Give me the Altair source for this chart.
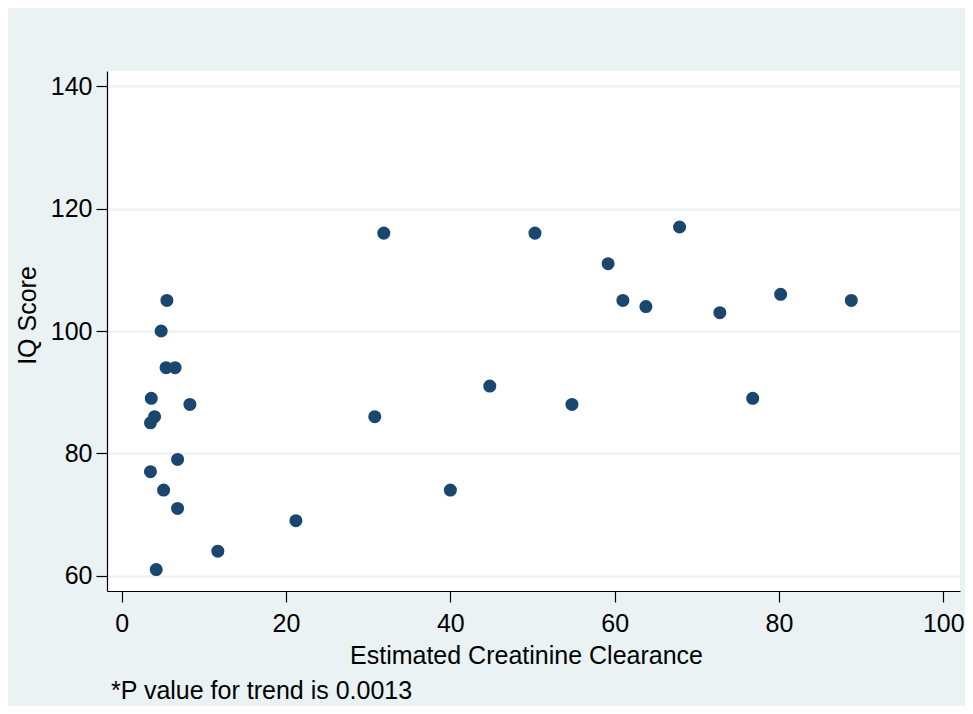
import altair as alt
import pandas as pd

# Estimated creatinine clearance (x) and IQ score (y)
clearance = [5.5, 4.8, 5.4, 6.5, 3.6, 8.3, 4.0, 3.5, 6.8, 3.5, 5.1, 6.8, 11.7, 4.2,
             21.2, 30.8, 31.9, 40.0, 44.8, 50.3, 54.8, 59.2, 61.0, 63.8, 67.9,
             72.8, 76.8, 80.2, 88.8]
iq = [105, 100, 94, 94, 89, 88, 86, 85, 79, 77, 74, 71, 64, 61,
      69, 86, 116, 74, 91, 116, 88, 111, 105, 104, 117,
      103, 89, 106, 105]

x_ticks = [0, 20, 40, 60, 80, 100]
y_ticks = [60, 80, 100, 120, 140]
note = "*P value for trend is 0.0013"

df = pd.DataFrame({"clearance": clearance, "iq": iq})
FONT = "Liberation Sans"
NAVY = "#1A476F"
BG = "#EAF2F3"

points = alt.Chart(df).mark_circle(size=170, color=NAVY, opacity=1).encode(
    x=alt.X(
        "clearance:Q",
        scale=alt.Scale(domain=[-1.79, 102.03], nice=False, zero=False),
        axis=alt.Axis(
            values=x_ticks, grid=False, tickSize=11, tickWidth=1.2,
            domainWidth=1.2, domainColor="black", tickColor="black",
            labelFontSize=25, labelFont=FONT, labelColor="black", labelPadding=9,
            labelFlush=False,
            title="Estimated Creatinine Clearance", titleFont=FONT, titleFontSize=25,
            titleFontWeight="normal", titleColor="black", titleBaseline="alphabetic",
            titleY=72, titleX=419, titleAlign="center",
        ),
    ),
    y=alt.Y(
        "iq:Q",
        scale=alt.Scale(domain=[57.5, 142.5], nice=False, zero=False),
        axis=alt.Axis(
            values=y_ticks, grid=True, gridColor=BG, gridWidth=2,
            tickSize=11, tickWidth=1.2, domainWidth=1.2, domainColor="black",
            tickColor="black", labelFontSize=25, labelFont=FONT, labelColor="black",
            labelPadding=4, labelFlush=False,
            title="IQ Score", titleFont=FONT, titleFontSize=25, titleFontWeight="normal",
            titleColor="black", titleAngle=270, titleBaseline="alphabetic",
            titleX=-72, titleY=244, titleAlign="center",
        ),
    ),
)

note_df = pd.DataFrame({"note": [note]})
note_text = alt.Chart(note_df).mark_text(
    align="left", baseline="alphabetic", fontSize=25, font=FONT, color="black"
).encode(x=alt.value(4), y=alt.value(628), text="note:N")

chart = alt.layer(points, note_text).properties(
    width=853, height=520,
    background=BG,
    padding={"left": 99, "top": 63, "right": 5, "bottom": 115},
    autosize=alt.AutoSizeParams(type="none"),
).configure_view(fill="white", stroke=None)

chart.save("out.html", embed_options={"renderer": "svg", "actions": False})
